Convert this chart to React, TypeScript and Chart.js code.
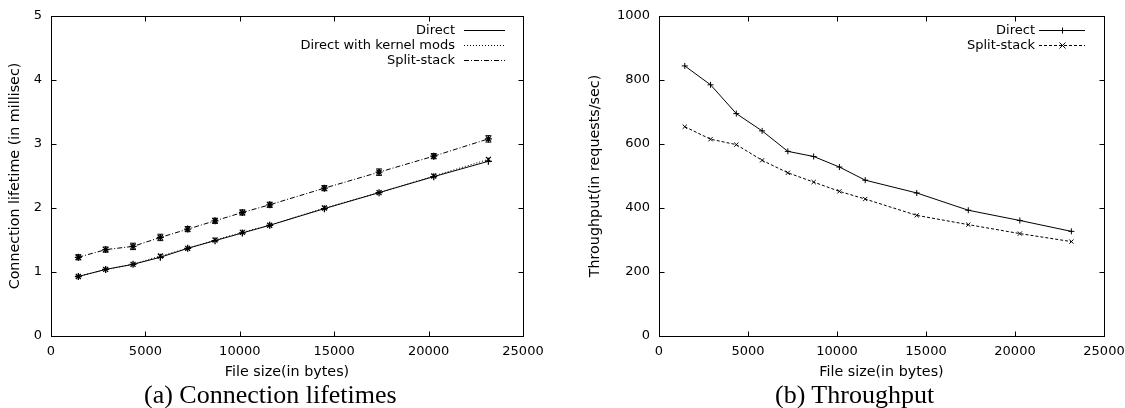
import React, { useEffect, useRef } from 'react';
import { Chart, registerables } from 'chart.js';

Chart.register(...registerables);

// ---- data ----
const fileSizes = [1448, 2896, 4344, 5792, 7240, 8688, 10136, 11584, 14480, 17376, 20272, 23168];

const lifetimeDirect = [0.93, 1.04, 1.12, 1.23, 1.37, 1.49, 1.61, 1.73, 1.99, 2.24, 2.49, 2.73];
const lifetimeKernelMods = [0.93, 1.04, 1.12, 1.25, 1.37, 1.50, 1.62, 1.73, 2.00, 2.24, 2.50, 2.76];
const lifetimeSplit = [1.23, 1.35, 1.40, 1.54, 1.67, 1.80, 1.93, 2.05, 2.31, 2.56, 2.81, 3.08];
const lifetimeSplitErr = [0.04, 0.04, 0.05, 0.05, 0.04, 0.04, 0.04, 0.04, 0.04, 0.05, 0.04, 0.05];

const throughputDirect = [844, 785, 695, 641, 577, 561, 528, 487, 447, 393, 361, 327];
const throughputSplit = [654, 615, 598, 549, 510, 481, 452, 428, 377, 348, 320, 295];

const xTicks = [0, 5000, 10000, 15000, 20000, 25000];
const lifetimeTicks = [0, 1, 2, 3, 4, 5];
const throughputTicks = [0, 200, 400, 600, 800, 1000];

const labelsLeft = ['Direct', 'Direct with kernel mods', 'Split-stack'];
const labelsRight = ['Direct', 'Split-stack'];

const captionLeft = '(a) Connection lifetimes';
const captionRight = '(b) Throughput';

// ---- styling helpers ----
const FONT_FAMILY = "'DejaVu Sans', 'Liberation Sans', sans-serif";
const font13 = { family: FONT_FAMILY, size: 13 };
const fontTitle = { family: FONT_FAMILY, size: 14.3 };

const toPoints = (ys: number[]) => fileSizes.map((x, i) => ({ x, y: ys[i] }));

const gnuplotPlugin = {
  id: 'gnuplot',
  afterDatasetsDraw(chart: any, _args: any, opts: any) {
    const { ctx, chartArea } = chart;
    const xs = chart.scales.x;
    const ys = chart.scales.y;
    ctx.save();
    ctx.strokeStyle = '#000';
    ctx.lineWidth = 1;
    ctx.setLineDash([]);
    // frame
    const L = Math.round(chartArea.left) + 0.5;
    const R = Math.round(chartArea.right) + 0.5;
    const T = Math.round(chartArea.top) + 0.5;
    const B = Math.round(chartArea.bottom) + 0.5;
    ctx.strokeRect(L, T, R - L, B - T);
    const tl = 5;
    ctx.beginPath();
    xs.ticks.forEach((t: any) => {
      const px = Math.round(xs.getPixelForValue(t.value)) + 0.5;
      ctx.moveTo(px, B);
      ctx.lineTo(px, B - tl);
      ctx.moveTo(px, T);
      ctx.lineTo(px, T + tl);
    });
    ys.ticks.forEach((t: any) => {
      const py = Math.round(ys.getPixelForValue(t.value)) + 0.5;
      ctx.moveTo(L, py);
      ctx.lineTo(L + tl, py);
      ctx.moveTo(R, py);
      ctx.lineTo(R - tl, py);
    });
    ctx.stroke();

    // error bars
    const errs = opts && opts.errors;
    if (errs) {
      errs.forEach((e: any) => {
        const ds = chart.data.datasets[e.dataset];
        ctx.beginPath();
        ds.data.forEach((p: any, i: number) => {
          const px = xs.getPixelForValue(p.x);
          const y1 = ys.getPixelForValue(p.y - e.values[i]);
          const y2 = ys.getPixelForValue(p.y + e.values[i]);
          ctx.moveTo(px, y1);
          ctx.lineTo(px, y2);
          ctx.moveTo(px - 3, y1);
          ctx.lineTo(px + 3, y1);
          ctx.moveTo(px - 3, y2);
          ctx.lineTo(px + 3, y2);
        });
        ctx.stroke();
      });
    }
    ctx.restore();
  },
  afterDraw(chart: any, _args: any, opts: any) {
    const { ctx, chartArea } = chart;
    const lg = opts.legend;
    if (!lg) return;
    ctx.save();
    ctx.font = `13px ${FONT_FAMILY}`;
    ctx.fillStyle = '#000';
    ctx.textAlign = 'right';
    ctx.textBaseline = 'middle';
    chart.data.datasets.forEach((ds: any, i: number) => {
      const y = Math.round(chartArea.top + 13.5 + i * 15) + 0.5;
      ctx.fillText(ds.label, chartArea.right - lg.textRight, y);
      const x1 = chartArea.right - lg.lineStart;
      const x2 = chartArea.right - lg.lineEnd;
      ctx.strokeStyle = '#000';
      ctx.lineWidth = 1;
      ctx.setLineDash(ds.borderDash || []);
      ctx.beginPath();
      ctx.moveTo(x1, y);
      ctx.lineTo(x2, y);
      ctx.stroke();
      ctx.setLineDash([]);
      if (lg.markers) {
        const cx = Math.round((x1 + x2) / 2) + 0.5;
        const r = 3;
        ctx.beginPath();
        if (ds.pointStyle === 'cross') {
          ctx.moveTo(cx - r, y);
          ctx.lineTo(cx + r, y);
          ctx.moveTo(cx, y - r);
          ctx.lineTo(cx, y + r);
        } else {
          ctx.moveTo(cx - r, y - r);
          ctx.lineTo(cx + r, y + r);
          ctx.moveTo(cx - r, y + r);
          ctx.lineTo(cx + r, y - r);
        }
        ctx.stroke();
      }
    });
    ctx.restore();
  },
};

function makeOptions(params: {
  yMin: number;
  yMax: number;
  yTicks: number[];
  yTitle: string;
  yAxisWidth: number;
  yTitlePad: number;
  padRight: number;
  legend: any;
  errors?: any[];
}) {
  return {
    responsive: false,
    animation: false as const,
    layout: { padding: { left: 0, top: 16, right: params.padRight, bottom: 27 } },
    plugins: {
      legend: { display: false },
      tooltip: { enabled: false },
      gnuplot: { legend: params.legend, errors: params.errors },
    },
    scales: {
      x: {
        type: 'linear' as const,
        min: 0,
        max: 25000,
        afterBuildTicks: (s: any) => {
          s.ticks = xTicks.map((v) => ({ value: v }));
        },
        ticks: {
          padding: 8,
          color: '#000',
          font: font13,
          maxRotation: 0,
          callback: (v: any) => String(v),
        },
        grid: { display: false, drawTicks: false },
        border: { display: false },
        title: {
          display: true,
          text: 'File size(in bytes)',
          color: '#000',
          font: fontTitle,
          padding: { top: 0, bottom: 0 },
        },
        afterFit: (s: any) => {
          s.height = 45;
          s.paddingLeft = 0;
          s.paddingRight = 0;
        },
      },
      y: {
        type: 'linear' as const,
        min: params.yMin,
        max: params.yMax,
        afterBuildTicks: (s: any) => {
          s.ticks = params.yTicks.map((v) => ({ value: v }));
        },
        ticks: {
          padding: 9,
          color: '#000',
          font: font13,
          callback: (v: any) => String(v),
        },
        grid: { display: false, drawTicks: false },
        border: { display: false },
        title: {
          display: true,
          text: params.yTitle,
          color: '#000',
          font: fontTitle,
          padding: { top: params.yTitlePad, bottom: 0 },
        },
        afterFit: (s: any) => {
          s.width = params.yAxisWidth;
          s.paddingTop = 0;
          s.paddingBottom = 0;
        },
      },
    },
  };
}

function leftConfig(): any {
  return {
    type: 'line',
    data: {
      datasets: [
        {
          label: labelsLeft[0],
          data: toPoints(lifetimeDirect),
          borderColor: '#000',
          borderWidth: 1,
          pointStyle: 'cross',
          pointRadius: 3.5,
          pointBorderColor: '#000',
          pointBorderWidth: 1.3,
          tension: 0,
        },
        {
          label: labelsLeft[1],
          data: toPoints(lifetimeKernelMods),
          borderColor: '#000',
          borderWidth: 1,
          borderDash: [1, 2],
          pointStyle: 'crossRot',
          pointRadius: 3.5,
          pointBorderColor: '#000',
          pointBorderWidth: 1.3,
          tension: 0,
        },
        {
          label: labelsLeft[2],
          data: toPoints(lifetimeSplit),
          borderColor: '#000',
          borderWidth: 1,
          borderDash: [5, 2, 1, 2],
          pointStyle: 'star',
          pointRadius: 3.5,
          pointBorderColor: '#000',
          pointBorderWidth: 1.3,
          tension: 0,
        },
      ],
    },
    options: makeOptions({
      yMin: 0,
      yMax: 5,
      yTicks: lifetimeTicks,
      yTitle: 'Connection lifetime (in millisec)',
      yAxisWidth: 51,
      yTitlePad: 7.1,
      padRight: 37,
      legend: { textRight: 68, lineStart: 59, lineEnd: 18, markers: false },
      errors: [{ dataset: 2, values: lifetimeSplitErr }],
    }),
    plugins: [gnuplotPlugin],
  };
}

function rightConfig(): any {
  return {
    type: 'line',
    data: {
      datasets: [
        {
          label: labelsRight[0],
          data: toPoints(throughputDirect),
          borderColor: '#000',
          borderWidth: 1,
          pointStyle: 'cross',
          pointRadius: 3,
          pointBorderColor: '#000',
          pointBorderWidth: 1,
          tension: 0,
        },
        {
          label: labelsRight[1],
          data: toPoints(throughputSplit),
          borderColor: '#000',
          borderWidth: 1,
          borderDash: [3, 2],
          pointStyle: 'crossRot',
          pointRadius: 3,
          pointBorderColor: '#000',
          pointBorderWidth: 1,
          tension: 0,
        },
      ],
    },
    options: makeOptions({
      yMin: 0,
      yMax: 1000,
      yTicks: throughputTicks,
      yTitle: 'Throughput(in requests/sec)',
      yAxisWidth: 99,
      yTitlePad: 27.1,
      padRight: 21,
      legend: { textRight: 69, lineStart: 65, lineEnd: 19, markers: true },
    }),
    plugins: [gnuplotPlugin],
  };
}

function ChartCanvas(props: { left: number; width: number; height: number; makeConfig: () => any }) {
  const ref = useRef<HTMLCanvasElement>(null);
  useEffect(() => {
    const chart = new Chart(ref.current as HTMLCanvasElement, props.makeConfig());
    return () => chart.destroy();
  }, []);
  return (
    <div style={{ position: 'absolute', left: props.left, top: 0, width: props.width, height: props.height }}>
      <canvas
        ref={ref}
        width={props.width}
        height={props.height}
        style={{ display: 'block', width: props.width, height: props.height }}
      />
    </div>
  );
}

const captionStyle: React.CSSProperties = {
  position: 'absolute',
  top: 382,
  fontFamily: "'Liberation Serif', 'Times New Roman', serif",
  fontSize: 26,
  lineHeight: '26px',
  whiteSpace: 'nowrap',
  color: '#000',
};

export default function App() {
  return (
    <div
      style={{
        position: 'absolute',
        left: 0,
        top: 0,
        width: 1125,
        height: 408,
        overflow: 'hidden',
        background: '#fff',
      }}
    >
      <ChartCanvas left={0} width={560} height={408} makeConfig={leftConfig} />
      <ChartCanvas left={560} width={565} height={408} makeConfig={rightConfig} />
      <div style={{ ...captionStyle, left: 144 }}>{captionLeft}</div>
      <div style={{ ...captionStyle, left: 775 }}>{captionRight}</div>
    </div>
  );
}
